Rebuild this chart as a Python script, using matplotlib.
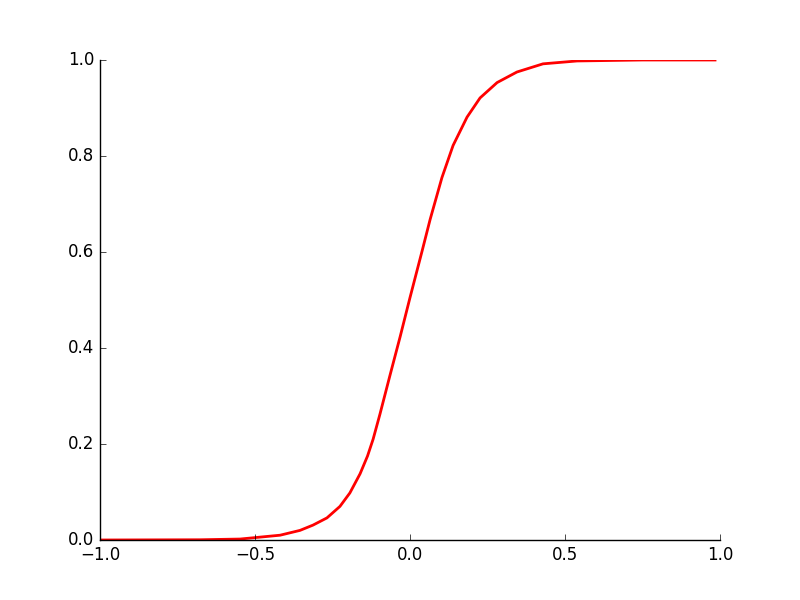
import matplotlib
matplotlib.use("Agg")
import matplotlib.pyplot as plt

x_vals = [-1.0, -0.677, -0.548, -0.419, -0.355, -0.313, -0.268, -0.226, -0.194,
          -0.161, -0.137, -0.119, -0.097, -0.065, -0.032, 0.0, 0.039, 0.065,
          0.103, 0.139, 0.184, 0.226, 0.281, 0.345, 0.429, 0.539, 0.75, 0.984]
y_vals = [0.0, 0.0005, 0.002, 0.010, 0.020, 0.031, 0.046, 0.070, 0.098,
          0.138, 0.175, 0.210, 0.262, 0.342, 0.423, 0.505, 0.602, 0.668,
          0.755, 0.822, 0.881, 0.921, 0.953, 0.975, 0.992, 0.998, 1.0, 1.0]

plt.style.use("classic")
fig = plt.figure(figsize=(8, 6), dpi=100)
fig.patch.set_facecolor("white")
ax = fig.add_axes([0.125, 0.1, 0.775, 0.8])
ax.plot(x_vals, y_vals, color="red", lw=2, solid_joinstyle="round")
ax.set_xlim(-1.0, 1.0)
ax.set_ylim(0.0, 1.0)
ax.set_xticks([-1.0, -0.5, 0.0, 0.5, 1.0])
ax.set_yticks([0.0, 0.2, 0.4, 0.6, 0.8, 1.0])
ax.spines["top"].set_visible(False)
ax.spines["right"].set_visible(False)
ax.xaxis.set_ticks_position("bottom")
ax.yaxis.set_ticks_position("left")
ax.tick_params(direction="in", labelsize=12)
fig.savefig("out.png", dpi=100, facecolor="white")
